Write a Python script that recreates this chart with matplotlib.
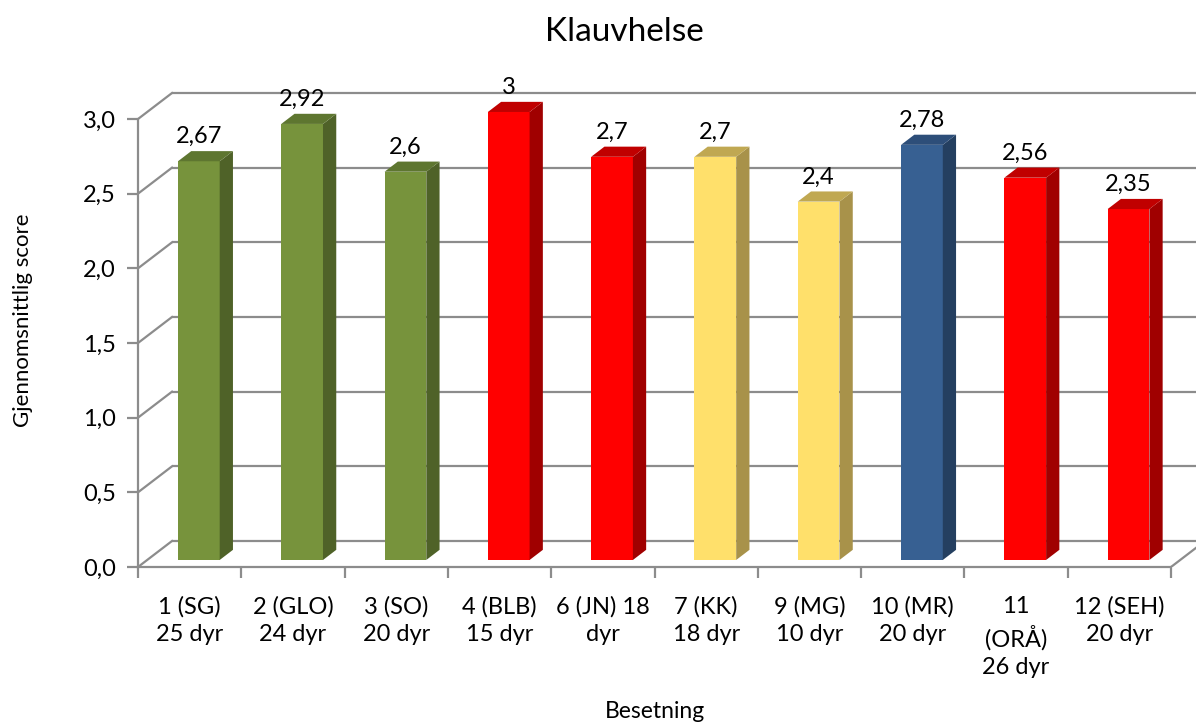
import matplotlib
matplotlib.use('Agg')
import matplotlib.pyplot as plt
from matplotlib.patches import Polygon

plt.rcParams['font.family'] = ['Lato', 'DejaVu Sans']

# Data
kategorier = ['1 (SG)\n25 dyr', '2 (GLO)\n24 dyr', '3 (SO)\n20 dyr', '4 (BLB)\n15 dyr',
              '6 (JN) 18\ndyr', '7 (KK)\n18 dyr', '9 (MG)\n10 dyr', '10 (MR)\n20 dyr',
              '11\n(ORÅ)\n26 dyr', '12 (SEH)\n20 dyr']
verdier = [2.67, 2.92, 2.6, 3, 2.7, 2.7, 2.4, 2.78, 2.56, 2.35]
grupper = ['gronn', 'gronn', 'gronn', 'rod', 'rod', 'gul', 'gul', 'bla', 'rod', 'rod']
y_ticks = [0, 0.5, 1.0, 1.5, 2.0, 2.5, 3.0]

# front, side, topp
farger = {
    'gronn': ('#77933C', '#4F6228', '#5E7630'),
    'rod':   ('#FF0000', '#A00000', '#C00000'),
    'gul':   ('#FFE06B', '#A8924A', '#C0A852'),
    'bla':   ('#376092', '#243F60', '#2D4E79'),
}
GRA = '#8C8C8C'

W, H = 1196, 723
fig = plt.figure(figsize=(W / 100, H / 100), dpi=100)

# axes: x 0..10 kategorier, y 0..3
px_x = 103.3
px_y = 149.33
x0_px, y0_px = 138, 567
top_px = 60
ax = fig.add_axes([x0_px / W, (H - y0_px) / H, (W - x0_px) / W, (y0_px - top_px) / H])
ax.set_xlim(0, (W - x0_px) / px_x)
ax.set_ylim(0, (y0_px - top_px) / px_y)

# 3D-dybde
DX = 34 / px_x
DY = 26 / px_y

# bakvegg og venstre vegg
for y in y_ticks:
    ax.plot([DX, 10 + DX], [y + DY, y + DY], color=GRA, lw=1.6, zorder=1, solid_capstyle='butt')
    ax.plot([0, DX], [y, y + DY], color=GRA, lw=1.6, zorder=1)
# gulv, hoyre kant
ax.plot([10, 10 + DX], [0, DY], color=GRA, lw=1.6, zorder=1)

# søyler
bredde = 0.404
f0 = 0.27
d = 0.39
for i, (v, g) in enumerate(zip(verdier, grupper)):
    front, side, topp = farger[g]
    cx = i + 0.5 + f0 * DX
    xl, xr = cx - bredde / 2, cx + bredde / 2
    yb = f0 * DY
    yt = v + f0 * DY
    ox, oy = d * DX, d * DY
    ax.add_patch(Polygon([(xl, yb), (xr, yb), (xr, yt), (xl, yt)], closed=True,
                         facecolor=front, edgecolor='none', zorder=3))
    ax.add_patch(Polygon([(xr, yb), (xr + ox, yb + oy), (xr + ox, yt + oy), (xr, yt)],
                         closed=True, facecolor=side, edgecolor='none', zorder=3))
    ax.add_patch(Polygon([(xl, yt), (xr, yt), (xr + ox, yt + oy), (xl + ox, yt + oy)],
                         closed=True, facecolor=topp, edgecolor='none', zorder=3))
    ax.text(cx, yt + oy + 8 / px_y, f'{v:g}'.replace('.', ','), ha='center', va='baseline',
            fontsize=17, color='black', zorder=4)

# akser
for s in ['top', 'right']:
    ax.spines[s].set_visible(False)
ax.spines['left'].set_bounds(0, 3)
ax.spines['bottom'].set_bounds(0, 10)
for s in ['left', 'bottom']:
    ax.spines[s].set_color(GRA)
    ax.spines[s].set_linewidth(1.6)
    ax.spines[s].set_zorder(2)

ax.set_yticks(y_ticks)
ax.set_yticklabels([f'{t:.1f}'.replace('.', ',') for t in y_ticks], fontsize=17)
ax.tick_params(axis='y', length=8, width=1.6, color=GRA, pad=8)

ax.set_xticks(range(11))
ax.set_xticklabels([])
ax.tick_params(axis='x', which='major', length=8, width=1.6, color=GRA)
ax.set_xticks([i + 0.5 for i in range(10)], minor=True)
ax.set_xticklabels(kategorier, minor=True, fontsize=17, linespacing=1.38)
ax.tick_params(axis='x', which='minor', length=0, pad=21)

fig.text(624 / W, 1 - 32 / H, 'Klauvhelse', ha='center', va='center', fontsize=24)
fig.text(23 / W, 1 - 320 / H, 'Gjennomsnittlig score', ha='center', va='center',
         rotation=90, fontsize=16)
fig.text(655 / W, 1 - 711 / H, 'Besetning', ha='center', va='center', fontsize=16.5)

fig.savefig('out.png', dpi=100)
